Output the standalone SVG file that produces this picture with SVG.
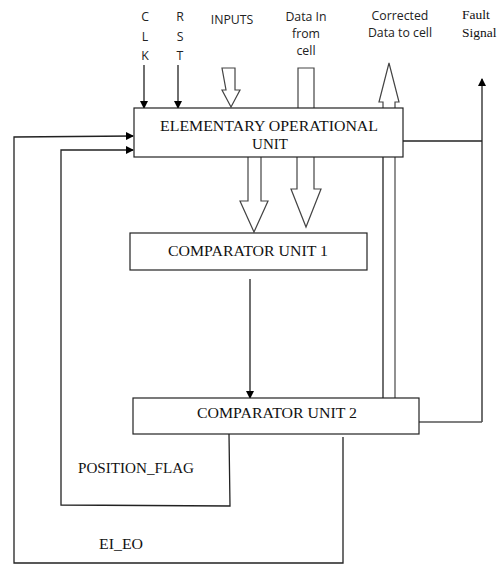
<svg xmlns="http://www.w3.org/2000/svg" width="502" height="565" viewBox="0 0 502 565">
<defs>
<marker id="ah" markerWidth="8" markerHeight="8" refX="7" refY="4" orient="auto" markerUnits="userSpaceOnUse">
<path d="M0,0 L8,4 L0,8 Z" fill="#000"/>
</marker>
<style>
.box{fill:#fff;stroke:#222;stroke-width:1.2}
.ln{fill:none;stroke:#222;stroke-width:1.3}
.gl{fill:none;stroke:#555;stroke-width:1.3}
.hol{fill:#fff;stroke:#444;stroke-width:1.2}
.serif{font-family:"Liberation Serif","Times New Roman",serif;fill:#111}
.sans{font-family:"Open Sans","DejaVu Sans",sans-serif;fill:#222;font-size:12.3px}
</style>
</defs>
<rect width="502" height="565" fill="#fff"/>
<g id="labels-top">
<text class="sans" x="145" y="21" text-anchor="middle">C</text>
<text class="sans" x="145" y="41" text-anchor="middle">L</text>
<text class="sans" x="145" y="60" text-anchor="middle">K</text>
<text class="sans" x="180" y="21" text-anchor="middle">R</text>
<text class="sans" x="180" y="41" text-anchor="middle">S</text>
<text class="sans" x="180" y="60" text-anchor="middle">T</text>
<text class="sans" x="232" y="24" text-anchor="middle">INPUTS</text>
<text class="sans" x="306" y="21" text-anchor="middle">Data In</text>
<text class="sans" x="306" y="38" text-anchor="middle">from</text>
<text class="sans" x="306" y="55" text-anchor="middle">cell</text>
<text class="sans" x="400" y="20" text-anchor="middle">Corrected</text>
<text class="sans" x="400" y="37" text-anchor="middle">Data to cell</text>
<text class="serif" x="462" y="19" font-size="13.5">Fault</text>
<text class="serif" x="462" y="37" font-size="13.5">Signal</text>
</g>
<g id="connectors">
<line class="ln" x1="144" y1="65" x2="144" y2="108" marker-end="url(#ah)"/>
<line class="ln" x1="178" y1="65" x2="178" y2="108" marker-end="url(#ah)"/>
<path class="hol" d="M222,68 H235 V90 L240,90 L231,107 L222,90 L226,90 Z"/>
<path class="hol" d="M298,68 H314 V110 H298 Z"/>
<path class="hol" d="M383,110 V102 H379 L389,63 L399,102 H395 V110"/>
<line class="ln" x1="383" y1="157" x2="383" y2="398"/>
<line class="gl" x1="395" y1="157" x2="395" y2="398"/>
<path class="hol" d="M248,157 V201 H240 L254,232 L268,201 H261 V157"/>
<path class="hol" d="M297,157 V189 H291 L306,227 L321,189 H314 V157"/>
<line class="ln" x1="250" y1="279" x2="250" y2="398" marker-end="url(#ah)"/>
<polyline class="ln" points="403,141 482,141"/>
<line class="ln" x1="482" y1="422" x2="482" y2="79" marker-end="url(#ah)"/>
<polyline class="gl" points="419,422 482,422"/>
<polyline class="ln" points="343,437 343,563 14,563 14,137 133,136" marker-end="url(#ah)"/>
<polyline class="ln" points="229,434 230,506 61,505 61,150 133,150" marker-end="url(#ah)"/>
</g>
<g id="eou">
<rect class="box" x="134" y="108" width="269" height="49"/>
<text class="serif" x="160" y="131" font-size="15" textLength="218" lengthAdjust="spacingAndGlyphs">ELEMENTARY OPERATIONAL</text>
<text class="serif" x="270" y="149" font-size="15" text-anchor="middle">UNIT</text>
</g>
<g id="cu1">
<rect class="box" x="130" y="233" width="237" height="37"/>
<text class="serif" x="168" y="256" font-size="15" textLength="160" lengthAdjust="spacingAndGlyphs">COMPARATOR  UNIT 1</text>
</g>
<g id="cu2">
<rect class="box" x="133" y="398" width="286" height="36"/>
<text class="serif" x="197" y="418" font-size="15" textLength="160" lengthAdjust="spacingAndGlyphs">COMPARATOR  UNIT 2</text>
</g>
<g id="labels-bottom">
<text class="serif" x="78" y="473" font-size="14.5" textLength="116" lengthAdjust="spacingAndGlyphs">POSITION_FLAG</text>
<text class="serif" x="99" y="549" font-size="14.5" textLength="44" lengthAdjust="spacingAndGlyphs">EI_EO</text>
</g>
</svg>
